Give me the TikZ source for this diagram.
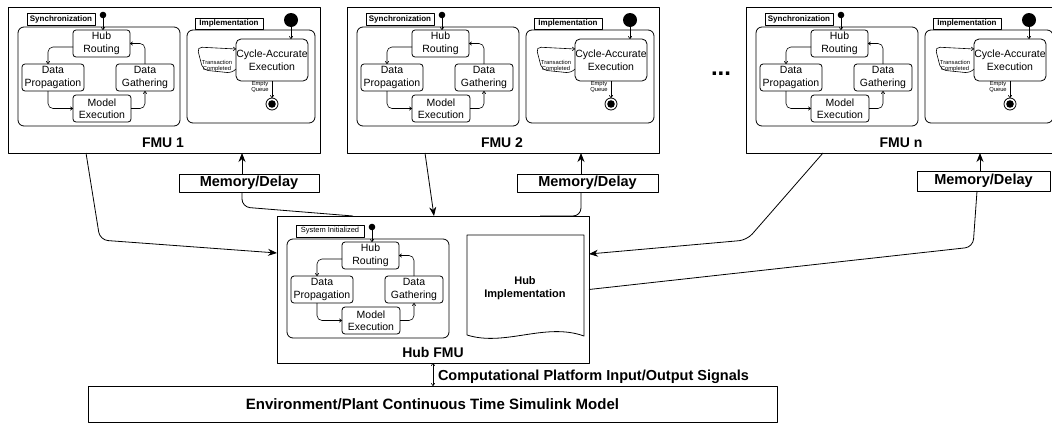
\documentclass[tikz,border=0pt]{standalone}
\usepackage{fontspec}
\setmainfont{Liberation Sans}
\usetikzlibrary{arrows.meta,calc}

\tikzset{
  every node/.style={inner sep=0pt, outer sep=0pt},
  frame/.style={draw, line width=0.9pt, anchor=north west},
  stbox/.style={draw, rounded corners=3pt, line width=0.8pt, anchor=north west,
    align=center, font=\fontsize{10.5}{12.5}\selectfont},
  cont/.style={draw, rounded corners=6pt, line width=0.8pt, anchor=north west},
  tagbold/.style={draw, line width=0.8pt, anchor=north west,
    font=\bfseries\fontsize{8}{9}\selectfont},
  tagplain/.style={draw, line width=0.8pt, anchor=north west,
    font=\fontsize{7.5}{9}\selectfont},
  initdot/.style={circle, fill, minimum size=#1},
  tiny/.style={align=center, font=\fontsize{5.8}{6.5}\selectfont},
  title/.style={font=\bfseries\fontsize{14}{15}\selectfont},
  big/.style={font=\bfseries\fontsize{14.5}{16}\selectfont},
  sarr/.style={line width=0.6pt, -{To[length=3pt,width=4pt]}},
  barr/.style={line width=0.8pt, -{Stealth[length=9pt,width=7pt]}},
  plain/.style={line width=0.8pt},
}

% Synchronization state machine; origin = top-left of its rounded frame
\newcommand\syncblock[3]{% #1 prefix, #2 tag style, #3 tag text
  \node[cont, minimum width=162pt, minimum height=99pt] (#1c) at (0,0) {};
  \node[#2, minimum width=68pt, minimum height=12pt] (#1tag) at (9,-14) {#3};
  \node[initdot=6.6pt] (#1dot) at (85,-12) {};
  \node[stbox, minimum width=57pt, minimum height=27pt] (#1hr) at (55,3) {Hub\\Routing};
  \node[stbox, minimum width=62pt, minimum height=27pt] (#1dp) at (4,37) {Data\\Propagation};
  \node[stbox, minimum width=58pt, minimum height=27pt] (#1dg) at (98,37) {Data\\Gathering};
  \node[stbox, minimum width=58pt, minimum height=27pt] (#1me) at (55,68) {Model\\Execution};
  \draw[sarr] (#1dot) -- (#1dot |- #1hr.north);
  \draw[sarr, rounded corners=5pt] ($(#1hr.north west)+(0,17)$) -| ($(#1dp.north west)+(26,0)$);
  \draw[sarr, rounded corners=5pt] ($(#1dp.south west)+(26,0)$) |- (#1me.west);
  \draw[sarr, rounded corners=5pt] (#1me.east) -| (#1dg.south);
  \draw[sarr, rounded corners=5pt] (#1dg.north) |- (#1hr.east);
}

% One FMU: frame, synchronization part and implementation part
\newcommand\fmublock[2]{% #1 prefix, #2 title
  \node[frame, minimum width=312pt, minimum height=146pt] (#1box) at (0,0) {};
  \node[title] (#1t) at (155,136) {#2};
  \begin{scope}[shift={(10,20)}]
    \syncblock{#1s}{tagbold}{Synchronization}
  \end{scope}
  \node[cont, minimum width=128pt, minimum height=93pt] (#1ic) at (179,23) {};
  \node[tagbold, minimum width=68pt, minimum height=11pt] (#1itag) at (187,11) {Implementation};
  \node[initdot=14pt] (#1idot) at (283,13) {};
  \node[stbox, rounded corners=5pt, minimum width=72pt, minimum height=42pt] (#1cyc) at (228,32)
    {Cycle-Accurate\\Execution};
  \node[circle, draw, line width=0.8pt, minimum size=12pt] (#1fin) at (264,97) {};
  \fill (#1fin) circle (3.8pt);
  \draw[sarr] (#1idot) -- (#1idot |- #1cyc.north);
  \draw[sarr] (#1cyc.south) -- (#1fin.north);
  \node[tiny] (#1eq) at (252,80) {Empty\\Queue};
  \node[tiny] (#1tc) at (209,59) {Transaction\\Completed};
  \draw[sarr, rounded corners=5pt] (#1cyc.west |- 0,62) -- (224,66) -- (195,63)
    -- (189,40) -- (#1cyc.west |- 0,42);
}

\begin{document}
\begin{tikzpicture}[x=1pt, y=-1pt, line join=round]
\clip (0,0) rectangle (1052,426);
\useasboundingbox (0,0) rectangle (1052,426);

% the three FMUs
\begin{scope}[shift={(8,7)}]   \fmublock{fa}{FMU 1} \end{scope}
\begin{scope}[shift={(347,7)}] \fmublock{fb}{FMU 2} \end{scope}
\begin{scope}[shift={(746,7)}] \fmublock{fn}{FMU n} \end{scope}
\node[font=\bfseries\fontsize{24}{24}\selectfont] (dots) at (721,74) {...};

% hub FMU
\node[frame, minimum width=312pt, minimum height=147pt] (hubbox) at (277,216) {};
\node[title] (hubt) at (433,352) {Hub FMU};
\begin{scope}[shift={(287,239)}]
  \syncblock{hs}{tagplain}{System Initialized}
\end{scope}
\draw[line width=0.8pt] (467,335) -- (467,235) -- (584,235) -- (584,336)
  .. controls (545,322) and (505,347) .. (467,335);
\node[align=center, font=\bfseries\fontsize{11}{12.5}\selectfont] (himpl) at (525,288)
  {Hub\\Implementation};

% memory / delay elements
\node[frame, minimum width=140pt, minimum height=18pt, big] (m1) at (179,174) {Memory/Delay};
\node[frame, minimum width=141pt, minimum height=18pt, big] (m2) at (517,174) {Memory/Delay};
\node[frame, minimum width=133pt, minimum height=20pt, big] (mn) at (917,171) {Memory/Delay};
\coordinate (m1a) at ($(m1.north west)+(63,0)$);
\coordinate (m2a) at ($(m2.north west)+(64,0)$);
\coordinate (mna) at ($(mn.north west)+(63,0)$);
\draw[barr] (m1a) -- (m1a |- fabox.south);
\draw[barr] (m2a) -- (m2a |- fbbox.south);
\draw[barr] (mna) -- (mna |- fnbox.south);

% hub outputs back to the FMUs through the memory elements
\draw[plain, rounded corners=8pt] (m1a |- m1.south) -- (242,207) -- ($(hubbox.north west)+(76,0)$);
\draw[plain, rounded corners=8pt] (m2a |- m2.south) -- (581,216) -- ($(hubbox.north west)+(263,0)$);
\draw[plain, rounded corners=8pt] ($(mn.south west)+(60,0)$) -- (973,247) -- (hubbox.east);

% FMU outputs into the hub
\draw[barr, rounded corners=8pt] ($(fabox.south west)+(78,0)$) -- (100,240)
  -- ($(hubbox.north west)+(0,37)$);
\draw[barr] ($(fbbox.south west)+(78,0)$) -- ($(hubbox.north west)+(157,0)$);
\draw[barr, rounded corners=8pt] ($(fnbox.south west)+(77,0)$) -- (747,240)
  -- ($(hubbox.north east)+(0,38)$);

% plant model
\node[frame, minimum width=689pt, minimum height=36pt] (env) at (88,386) {};
\node[font=\bfseries\fontsize{15}{17}\selectfont] (envt) at (env.center) {Environment/Plant Continuous Time Simulink Model};
\draw[line width=0.6pt, {To[length=3pt,width=4pt]}-{To[length=3pt,width=4pt]}] (hubbox.south) -- (hubbox.south |- env.north);
\node[big, anchor=west] (io) at (438,377) {Computational Platform Input/Output Signals};
\end{tikzpicture}
\end{document}
